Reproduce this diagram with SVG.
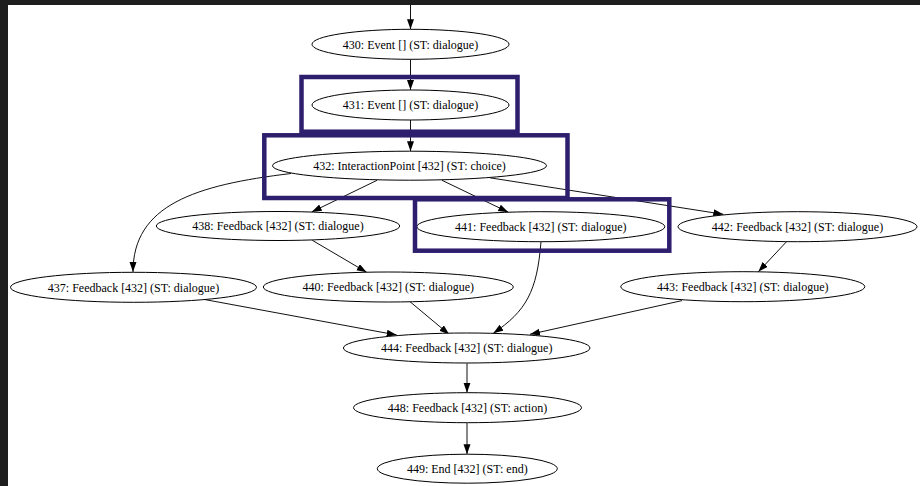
<svg xmlns="http://www.w3.org/2000/svg" width="920" height="486" viewBox="0 0 920 486">
<defs>
<marker id="ah" markerUnits="userSpaceOnUse" markerWidth="12" markerHeight="10" refX="10" refY="3.5" orient="auto">
<path d="M0,0 L10,3.5 L0,7 Z" fill="#000"/>
</marker>
<style>
.n ellipse{fill:#fff;stroke:#000;stroke-width:1}
.n text{font-family:"Liberation Serif","Times New Roman",serif;font-size:12px;fill:#000;text-anchor:middle}
#edges path{fill:none;stroke:#111;stroke-width:1;marker-end:url(#ah)}
.hl rect{fill:none;stroke:#2e1f6e;stroke-width:4.5}
</style>
</defs>
<rect x="0" y="0" width="920" height="486" fill="#1e1e1e"/>
<rect x="8" y="5" width="912" height="481" fill="#fff"/>
<g id="edges">
<path d="M410.5,5 L410.5,29.3"/>
<path d="M410.5,59.3 L410.5,90"/>
<path d="M410.5,120 L410.5,151.2"/>
<path d="M377,180.3 L311.7,212"/>
<path d="M442,180.3 L508.3,212.2"/>
<path d="M490,177.8 L723.3,214.3"/>
<path d="M291,173.5 C195,185 133,205 133,272"/>
<path d="M312.3,240.3 L366.7,272.3"/>
<path d="M541,241.7 C537,292 526,311 493.3,333.3"/>
<path d="M786.7,241.5 L758.3,271.8"/>
<path d="M205,299.6 L396.7,335"/>
<path d="M410,301.7 L449.3,334.5"/>
<path d="M682,300.6 L530,334.3"/>
<path d="M467,363.3 L467,392.7"/>
<path d="M467,422.7 L467,454.2"/>
</g>
<g id="n430" class="n"><ellipse cx="410.5" cy="44.3" rx="98.5" ry="15"/><text x="410.5" y="48.5">430: Event [] (ST: dialogue)</text></g>
<g id="n431" class="n"><ellipse cx="410.5" cy="105" rx="98.5" ry="15"/><text x="410.5" y="109.2">431: Event [] (ST: dialogue)</text></g>
<g id="n432" class="n"><ellipse cx="409.5" cy="165.7" rx="137" ry="14.5"/><text x="409.5" y="169.9">432: InteractionPoint [432] (ST: choice)</text></g>
<g id="n438" class="n"><ellipse cx="278" cy="226" rx="121.7" ry="14.5"/><text x="278" y="230.2">438: Feedback [432] (ST: dialogue)</text></g>
<g id="n441" class="n"><ellipse cx="540.8" cy="226.7" rx="124" ry="15"/><text x="540.8" y="230.9">441: Feedback [432] (ST: dialogue)</text></g>
<g id="n442" class="n"><ellipse cx="797.5" cy="226.7" rx="119.5" ry="15"/><text x="797.5" y="230.9">442: Feedback [432] (ST: dialogue)</text></g>
<g id="n437" class="n"><ellipse cx="133.5" cy="287.3" rx="123" ry="15"/><text x="133.5" y="291.5">437: Feedback [432] (ST: dialogue)</text></g>
<g id="n440" class="n"><ellipse cx="388.3" cy="287" rx="125" ry="15"/><text x="388.3" y="291.2">440: Feedback [432] (ST: dialogue)</text></g>
<g id="n443" class="n"><ellipse cx="742.8" cy="286.7" rx="122" ry="15"/><text x="742.8" y="290.9">443: Feedback [432] (ST: dialogue)</text></g>
<g id="n444" class="n"><ellipse cx="466.7" cy="348" rx="123.3" ry="15"/><text x="466.7" y="352.2">444: Feedback [432] (ST: dialogue)</text></g>
<g id="n448" class="n"><ellipse cx="467.5" cy="407.7" rx="114" ry="15"/><text x="467.5" y="411.9">448: Feedback [432] (ST: action)</text></g>
<g id="n449" class="n"><ellipse cx="467.3" cy="468.7" rx="90" ry="14.5"/><text x="467.3" y="472.9">449: End [432] (ST: end)</text></g>
<g id="highlights" class="hl">
<rect x="301.5" y="77" width="216" height="54.7"/>
<rect x="264.3" y="135.3" width="303.2" height="62.7"/>
<rect x="415" y="199.3" width="254.3" height="51.4"/>
</g>
</svg>
